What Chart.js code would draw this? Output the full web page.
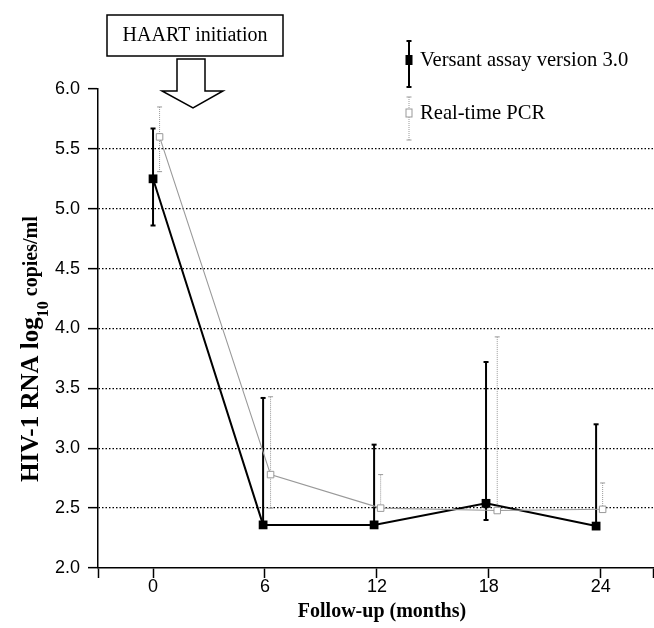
<!DOCTYPE html>
<html>
<head>
<meta charset="utf-8">
<script src="https://cdn.jsdelivr.net/npm/chart.js@4/dist/chart.umd.min.js"></script>
<style>
  html, body { margin: 0; padding: 0; background: #fff; }
  #wrap { width: 654px; height: 628px; }
</style>
</head>
<body>
<div id="wrap"><canvas id="chart" width="654" height="628"></canvas></div>
<script>
// values (log10 copies/ml), x in months
const months = [0, 6, 12, 18, 24];
const versantX = [0, 5.9, 11.85, 17.85, 23.75];
const versantMean = [5.25, 2.36, 2.36, 2.54, 2.35];
const versantHigh = [5.67, 3.42, 3.03, 3.72, 3.20];
const versantLow = [4.86, 2.36, 2.36, 2.40, 2.35];
const pcrX = [0.35, 6.3, 12.2, 18.45, 24.1];
const pcrMean = [5.60, 2.78, 2.50, 2.48, 2.49];
const pcrHigh = [5.85, 3.43, 2.78, 3.93, 2.71];
const pcrLow = [5.31, 2.50, 2.50, 2.48, 2.49];
const yTicks = [2.0, 2.5, 3.0, 3.5, 4.0, 4.5, 5.0, 5.5, 6.0];
const xMin = -2.95, xMax = 26.8;

const SERIF = '"Liberation Serif", "Times New Roman", serif';
const SANS = '"Liberation Sans", Arial, sans-serif';
const GREY = '#999999';

// error bars drawn under the points
const errorBars = {
  id: 'errorBars',
  beforeDatasetsDraw(chart) {
    const { ctx, scales: { x, y } } = chart;
    chart.data.datasets.forEach((ds) => {
      ctx.save();
      ctx.strokeStyle = ds.borderColor;
      ctx.lineWidth = ds.errWidth;
      ctx.setLineDash(ds.errDash);
      ds.data.forEach((p, i) => {
        const px = x.getPixelForValue(p.x);
        const top = y.getPixelForValue(ds.errHigh[i]);
        const bot = y.getPixelForValue(ds.errLow[i]);
        ctx.beginPath();
        ctx.moveTo(px, top); ctx.lineTo(px, bot);
        ctx.stroke();
        ctx.setLineDash([]);
        ctx.beginPath();
        ctx.moveTo(px - 2.5, top); ctx.lineTo(px + 2.5, top);
        if (bot - top > 3 && ds.errLow[i] < p.y) { ctx.moveTo(px - 2.5, bot); ctx.lineTo(px + 2.5, bot); }
        ctx.stroke();
        ctx.setLineDash(ds.errDash);
      });
      ctx.restore();
    });
  }
};

// titles, legend and the HAART annotation
const decorations = {
  id: 'decorations',
  afterDraw(chart) {
    const ctx = chart.ctx;
    ctx.save();
    ctx.fillStyle = '#000';
    ctx.strokeStyle = '#000';

    // x title
    ctx.font = 'bold 20px ' + SERIF;
    ctx.textAlign = 'center';
    ctx.textBaseline = 'middle';
    ctx.fillText('Follow-up (months)', 382, 612);

    // y title with subscript
    ctx.save();
    ctx.translate(38, 482);
    ctx.rotate(-Math.PI / 2);
    ctx.textAlign = 'left';
    ctx.textBaseline = 'alphabetic';
    ctx.font = 'bold 25px ' + SERIF;
    const t1 = 'HIV-1 RNA log';
    ctx.fillText(t1, 0, 0);
    let w = ctx.measureText(t1).width;
    ctx.font = 'bold 16px ' + SERIF;
    ctx.fillText('10', w, 9.5);
    w += ctx.measureText('10').width + 5;
    ctx.font = 'bold 20px ' + SERIF;
    ctx.fillText('copies/ml', w, -1);
    ctx.restore();

    // HAART box
    ctx.lineWidth = 1.5;
    ctx.strokeRect(107, 15, 176, 41);
    ctx.font = '20px ' + SERIF;
    ctx.textAlign = 'center';
    ctx.textBaseline = 'middle';
    ctx.fillText('HAART initiation', 195, 36);

    // hollow arrow
    ctx.beginPath();
    ctx.moveTo(177, 59); ctx.lineTo(205, 59); ctx.lineTo(205, 91);
    ctx.lineTo(223, 91); ctx.lineTo(193, 108); ctx.lineTo(162, 91);
    ctx.lineTo(177, 91); ctx.closePath();
    ctx.fillStyle = '#fff';
    ctx.fill();
    ctx.stroke();
    ctx.fillStyle = '#000';

    // legend
    const lx = 409;
    ctx.lineWidth = 2;
    ctx.beginPath();
    ctx.moveTo(lx, 41); ctx.lineTo(lx, 87);
    ctx.moveTo(lx - 2.5, 41); ctx.lineTo(lx + 2.5, 41);
    ctx.moveTo(lx - 2.5, 87); ctx.lineTo(lx + 2.5, 87);
    ctx.stroke();
    ctx.fillRect(lx - 3.5, 55, 7, 10);

    ctx.strokeStyle = GREY;
    ctx.lineWidth = 1;
    ctx.setLineDash([1, 1]);
    ctx.beginPath();
    ctx.moveTo(lx, 97); ctx.lineTo(lx, 140);
    ctx.stroke();
    ctx.setLineDash([]);
    ctx.beginPath();
    ctx.moveTo(lx - 2.5, 97); ctx.lineTo(lx + 2.5, 97);
    ctx.moveTo(lx - 2.5, 140); ctx.lineTo(lx + 2.5, 140);
    ctx.stroke();
    ctx.fillStyle = '#fff';
    ctx.fillRect(lx - 3, 109, 6, 8);
    ctx.strokeRect(lx - 3, 109, 6, 8);

    ctx.fillStyle = '#000';
    ctx.font = '20.6px ' + SERIF;
    ctx.textAlign = 'left';
    ctx.textBaseline = 'middle';
    chart.data.datasets.slice().reverse().forEach((ds, i) => {
      ctx.fillText(ds.label, 420, i === 0 ? 61 : 114);
    });
    ctx.restore();
  }
};

const toPoints = (xs, ys) => xs.map((v, i) => ({ x: v, y: ys[i] }));

new Chart(document.getElementById('chart'), {
  type: 'line',
  data: {
    datasets: [
      {
        label: 'Real-time PCR',
        data: toPoints(pcrX, pcrMean),
        errHigh: pcrHigh, errLow: pcrLow, errWidth: 1, errDash: [1, 1],
        borderColor: GREY, borderWidth: 1.1,
        pointStyle: 'rect', pointRadius: 4.6,
        pointBackgroundColor: '#fff', pointBorderColor: GREY, pointBorderWidth: 1,
        tension: 0
      },
      {
        label: 'Versant assay version 3.0',
        data: toPoints(versantX, versantMean),
        errHigh: versantHigh, errLow: versantLow, errWidth: 2, errDash: [],
        borderColor: '#000', borderWidth: 2,
        pointStyle: 'rect', pointRadius: 6.2,
        pointBackgroundColor: '#000', pointBorderColor: '#000', pointBorderWidth: 0,
        tension: 0
      }
    ]
  },
  options: {
    responsive: false,
    animation: false,
    devicePixelRatio: 1,
    layout: { autoPadding: false, padding: { top: 89, right: 1, left: 0, bottom: 0 } },
    plugins: { legend: { display: false }, tooltip: { enabled: false } },
    scales: {
      x: {
        type: 'linear',
        min: xMin, max: xMax,
        afterFit: (s) => { s.height = 60; },
        afterBuildTicks: (s) => { s.ticks = [xMin, ...months, xMax].map((v) => ({ value: v })); },
        ticks: {
          color: '#000', padding: 0,
          font: { family: SANS, size: 18, lineHeight: 1 },
          callback: (v) => (months.includes(v) ? String(v) : '')
        },
        grid: { drawOnChartArea: false, drawTicks: true, tickLength: 10, tickColor: '#000', tickWidth: 1.5 },
        border: { display: true, color: '#000', width: 1.5 }
      },
      y: {
        type: 'linear',
        min: 2, max: 6,
        afterFit: (s) => { s.width = 98; },
        afterBuildTicks: (s) => { s.ticks = yTicks.map((v) => ({ value: v })); },
        ticks: {
          color: '#000', padding: 8,
          font: { family: SANS, size: 18 },
          callback: (v) => v.toFixed(1)
        },
        grid: {
          color: (c) => (c.tick && (c.tick.value === 2 || c.tick.value === 6) ? 'rgba(0,0,0,0)' : '#000'),
          lineWidth: 1.3,
          drawTicks: true, tickLength: 10, tickColor: '#000', tickWidth: 1.5
        },
        border: { display: true, color: '#000', width: 1.5, dash: [1.5, 2] }
      }
    }
  },
  plugins: [errorBars, decorations]
});
</script>
</body>
</html>
